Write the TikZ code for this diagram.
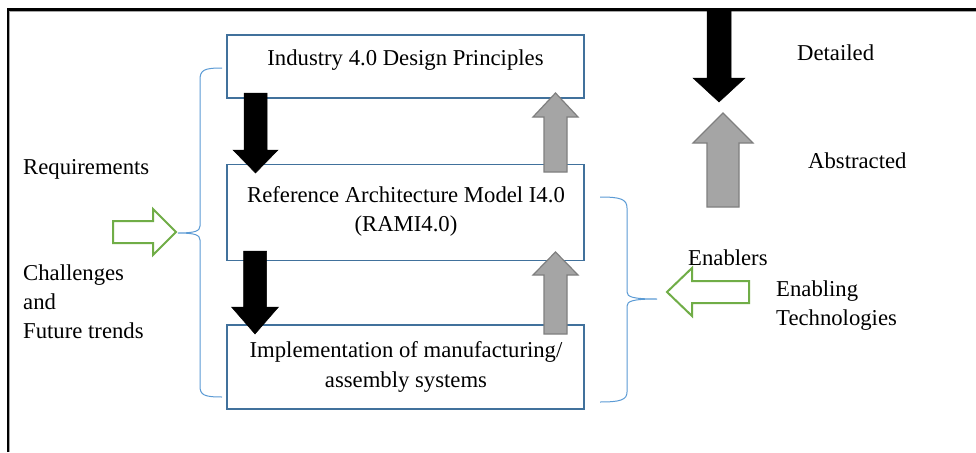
\documentclass[tikz,border=0pt]{standalone}
\usepackage{fontspec}
\setmainfont{Liberation Serif}
\definecolor{boxline}{HTML}{41719C}
\definecolor{braceblue}{HTML}{5B9BD5}
\definecolor{arrowgreen}{HTML}{70AD47}
\definecolor{arrowgray}{HTML}{A5A5A5}
\definecolor{arrowgrayline}{HTML}{7F7F7F}
% vertical block arrow: style, shaft half width, head half width, x, y tail, y head base, y tip
\newcommand\vblockarrow[7]{%
  \draw[#1] ({#4-#2},#5) -- ({#4-#2},#6) -- ({#4-#3},#6) -- (#4,#7)
    -- ({#4+#3},#6) -- ({#4+#2},#6) -- ({#4+#2},#5) -- cycle;}
\begin{document}
\begin{tikzpicture}[x=1pt,y=-1pt,
  every node/.style={font=\fontsize{22.7}{29}\selectfont, inner sep=0pt},
  stagebox/.style={draw=boxline, line width=1.5pt, fill=white, minimum width=357pt},
  label/.style={anchor=base west},
  boxtext/.style={anchor=base},
  brace/.style={draw=braceblue, line width=1pt},
  detailarrow/.style={fill=black, draw=black, line width=0.5pt},
  abstractarrow/.style={fill=arrowgray, draw=arrowgrayline, line width=1.2pt},
  hollowarrow/.style={draw=arrowgreen, line width=2pt, line join=miter, fill=white}]
\useasboundingbox (0,0) rectangle (976,452);
\fill[white] (0,0) rectangle (976,452);

% outer frame (top and left edges)
\draw[black!35, line width=1pt] (9,452) -- (9,11.5) -- (976,11.5);
\draw[black, line width=2.5pt] (8,452) -- (8,9.5) -- (976,9.5);

% braces
\draw[brace] (222,68) .. controls (204,68) and (200,70) .. (200,80) -- (200,226)
  .. controls (200,231) and (195,233) .. (178,233)
  .. controls (195,233) and (200,235) .. (200,240) -- (200,386)
  .. controls (200,395) and (204,397) .. (222,397);
\draw[brace] (600,197) .. controls (620,197) and (627,199) .. (627,208) -- (627,292)
  .. controls (627,297) and (633,299) .. (657,299)
  .. controls (633,299) and (627,301) .. (627,306) -- (627,392)
  .. controls (627,400) and (620,402) .. (600,402);

% stages
\node[stagebox, minimum height=63pt] (principles) at (405.5,66.5) {};
\node[stagebox, minimum height=96pt] (rami) at (405.5,212.5) {};
\node[stagebox, minimum height=84pt] (implementation) at (405.5,367) {};

\node[boxtext] (principlesText) at (405.5,66) {Industry 4.0 Design Principles};
\node[boxtext] (ramiTextA) at (406,202) {Reference Architecture Model I4.0};
\node[boxtext] (ramiTextB) at (406,231) {(RAMI4.0)};
\node[boxtext] (implTextA) at (406,357) {Implementation of manufacturing/};
\node[boxtext] (implTextB) at (406,387) {assembly systems};

% detailing (down) and abstraction (up) arrows between stages
\vblockarrow{detailarrow}{11.5}{22.5}{255.5}{93}{150}{173}
\vblockarrow{detailarrow}{11.5}{23.5}{255}{251}{307}{334}
\vblockarrow{abstractarrow}{11.5}{22.5}{555.5}{172}{117}{93}
\vblockarrow{abstractarrow}{11.5}{22.5}{555.5}{334}{275}{252}

% legend arrows
\vblockarrow{detailarrow}{12}{26}{719}{9}{78}{102}
\vblockarrow{abstractarrow}{16}{30}{723}{207}{143}{113}
\node[label] (detailed) at (797,60) {Detailed};
\node[label] (abstracted) at (808,168) {Abstracted};

% inputs from the left
\node[label] (requirements) at (23,174) {Requirements};
\node[label] (challenges) at (23,280) {Challenges};
\node[label] (and) at (23,309) {and};
\node[label] (trends) at (23,338) {Future trends};
\draw[hollowarrow] (113,221) -- (153,221) -- (153,209) -- (176,232) -- (153,255)
  -- (153,243) -- (113,243) -- cycle;

% inputs from the right
\node[label] (enablers) at (688,265) {Enablers};
\node[label] (enabling) at (776,296) {Enabling};
\node[label] (technologies) at (776,325) {Technologies};
\draw[hollowarrow] (749,281) -- (692,281) -- (692,268) -- (667,292) -- (692,316)
  -- (692,303) -- (749,303) -- cycle;
\end{tikzpicture}
\end{document}
